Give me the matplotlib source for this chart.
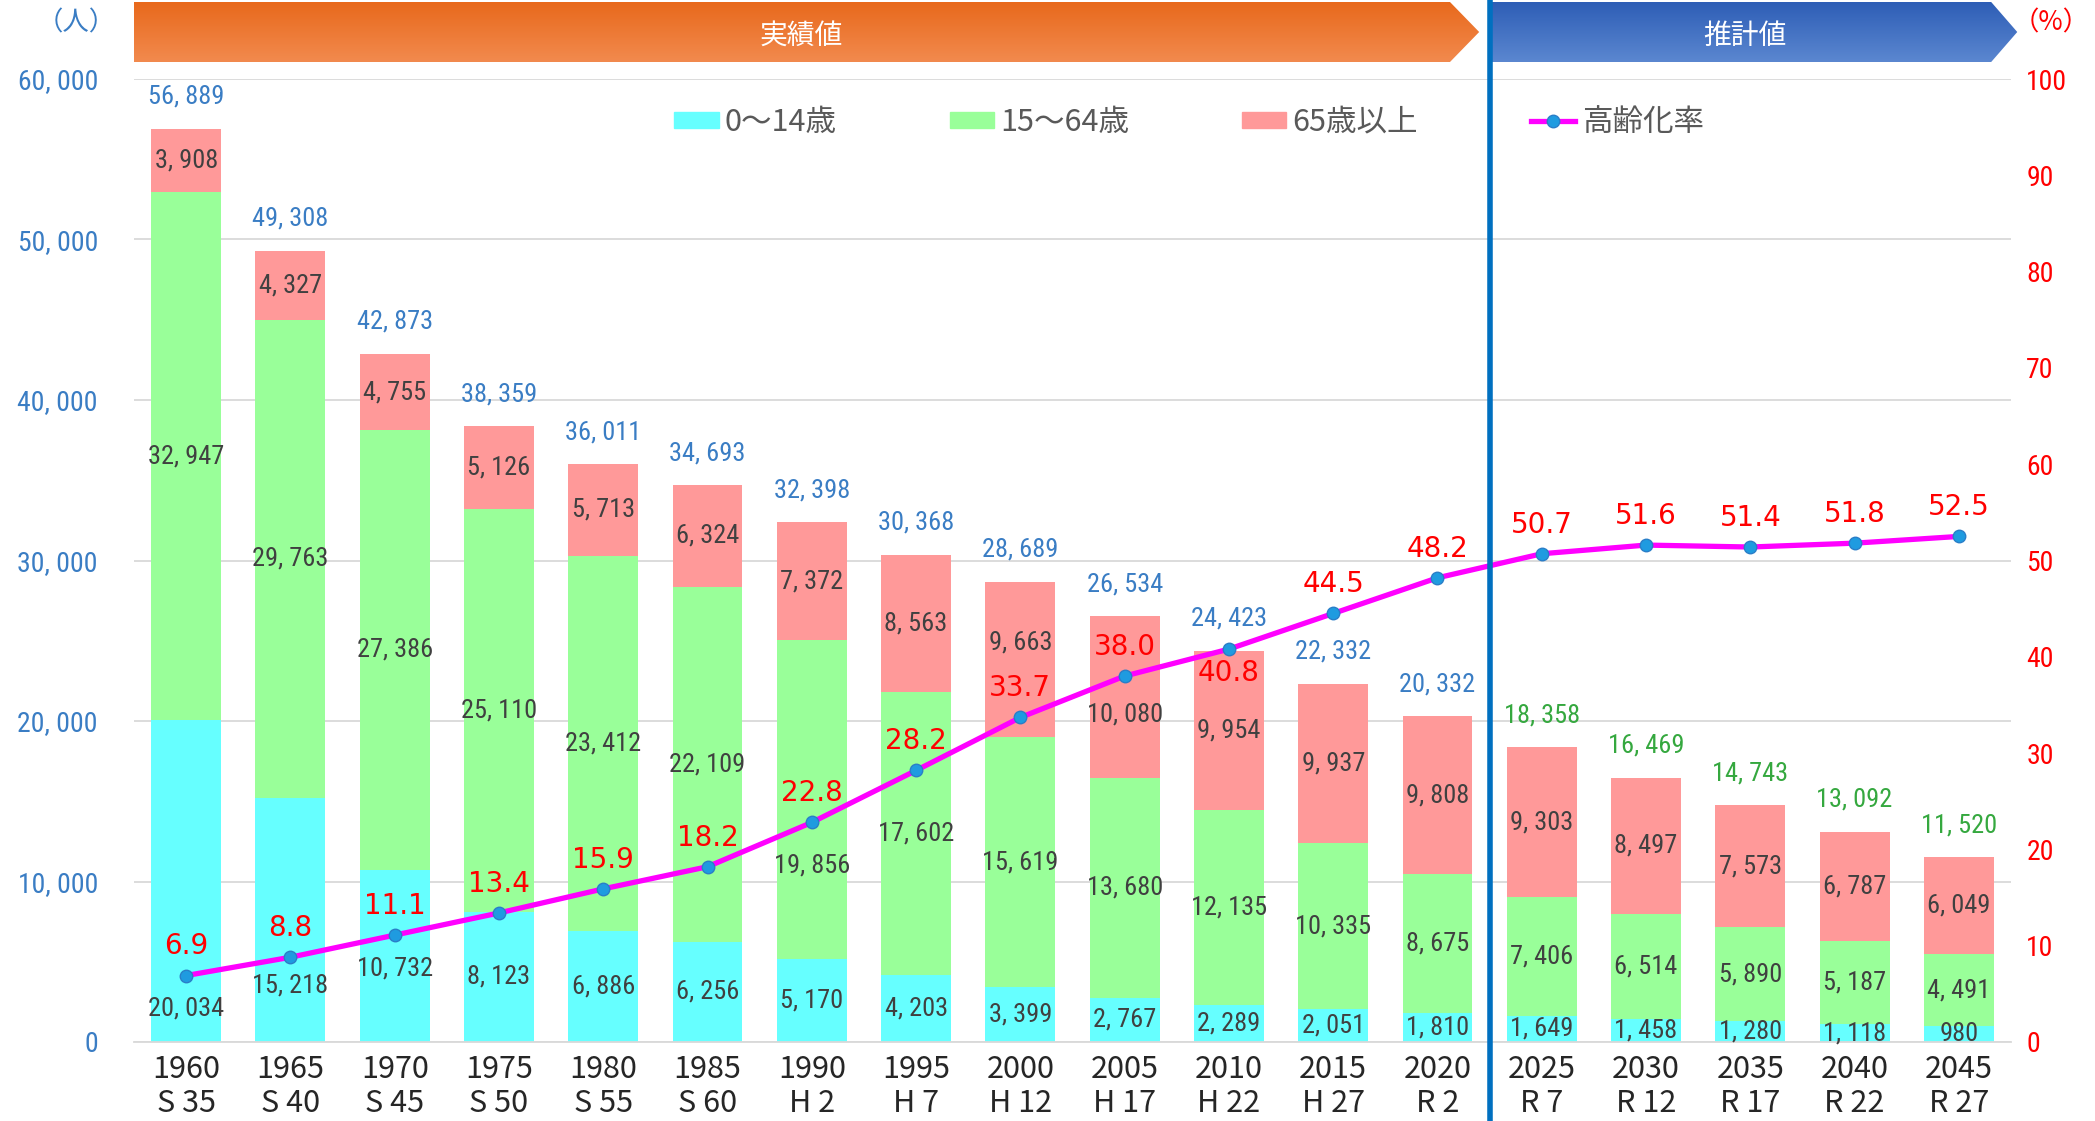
import numpy as np
import matplotlib
matplotlib.use("Agg")
import matplotlib.pyplot as plt
from matplotlib import font_manager as fm
from matplotlib.patches import Polygon, Patch
from matplotlib.lines import Line2D
from matplotlib.transforms import blended_transform_factory

# ---------------- data ----------------
years = [1960, 1965, 1970, 1975, 1980, 1985, 1990, 1995, 2000, 2005,
         2010, 2015, 2020, 2025, 2030, 2035, 2040, 2045]
eras = ["S 35", "S 40", "S 45", "S 50", "S 55", "S 60", "H 2", "H 7", "H 12",
        "H 17", "H 22", "H 27", "R 2", "R 7", "R 12", "R 17", "R 22", "R 27"]
young = [20034, 15218, 10732, 8123, 6886, 6256, 5170, 4203, 3399, 2767,
         2289, 2051, 1810, 1649, 1458, 1280, 1118, 980]
working = [32947, 29763, 27386, 25110, 23412, 22109, 19856, 17602, 15619,
           13680, 12135, 10335, 8675, 7406, 6514, 5890, 5187, 4491]
old = [3908, 4327, 4755, 5126, 5713, 6324, 7372, 8563, 9663, 10080,
       9954, 9937, 9808, 9303, 8497, 7573, 6787, 6049]
totals = [56889, 49308, 42873, 38359, 36011, 34693, 32398, 30368, 28689,
          26534, 24423, 22332, 20332, 18358, 16469, 14743, 13092, 11520]
rate = [6.9, 8.8, 11.1, 13.4, 15.9, 18.2, 22.8, 28.2, 33.7, 38.0,
        40.8, 44.5, 48.2, 50.7, 51.6, 51.4, 51.8, 52.5]
n_actual = 13  # first 13 points are actual values, rest projections
legend_labels = ["0～14歳", "15～64歳", "65歳以上", "高齢化率"]

# ---------------- fonts ----------------
CJK = "Noto Sans CJK JP"
plt.rcParams["font.family"] = [CJK, "DejaVu Sans"]
names = {f.name for f in fm.fontManager.ttflist}
if "Liberation Sans Narrow" in names:
    COND = dict(family="Liberation Sans Narrow")
elif "Roboto Condensed" in names:
    COND = dict(family="Roboto Condensed")
else:
    COND = dict(family="DejaVu Sans", stretch="condensed")

C_YOUNG = "#66FFFF"
C_WORK = "#99FF99"
C_OLD = "#FF9999"
C_LINE = "#FF00FF"
C_MARK = "#1F9BE0"
C_BLUE = "#3A7DC4"
C_GREEN = "#35A83F"
C_RED = "#FF0000"
C_DARK = "#404040"

def fmt(v):
    return "{:,}".format(v).replace(",", ", ")

# ---------------- figure ----------------
W, H = 2095, 1121
fig = plt.figure(figsize=(W / 100, H / 100), dpi=100)
L, R = 134 / W, 2011 / W
B, T = 1 - 1042 / H, 1 - 79 / H
ax = fig.add_axes([L, B, R - L, T - B])
ax2 = ax.twinx()

x = np.arange(len(years))
bw = 0.67
bottom_w = np.array(young)
bottom_o = np.array(young) + np.array(working)
b1 = ax.bar(x, young, bw, color=C_YOUNG, zorder=2)
b2 = ax.bar(x, working, bw, bottom=bottom_w, color=C_WORK, zorder=2)
b3 = ax.bar(x, old, bw, bottom=bottom_o, color=C_OLD, zorder=2)

ax.set_xlim(-0.5, len(years) - 0.5)
ax.set_ylim(0, 60000)
ax.set_yticks(np.arange(0, 60001, 10000))
ax.set_yticklabels([fmt(v) for v in range(0, 60001, 10000)], color=C_BLUE,
                   fontsize=20, **COND)
ax.tick_params(axis="y", length=0, pad=26)
ax.set_xticks(x)
ax.set_xticklabels([f"{y}\n{e}" for y, e in zip(years, eras)], fontsize=22,
                   color="#262626", linespacing=1.1)
ax.tick_params(axis="x", length=0, pad=9)
ax.grid(axis="y", color="#D9D9D9", lw=1.3, zorder=0)
ax.set_axisbelow(True)
for s in ["top", "left", "right"]:
    ax.spines[s].set_visible(False)
ax.spines["bottom"].set_color("#D9D9D9")
ax.spines["bottom"].set_linewidth(1.3)

ax2.set_ylim(0, 100)
ax2.set_yticks(np.arange(0, 101, 10))
ax2.set_yticklabels([str(v) for v in range(0, 101, 10)], color=C_RED,
                    fontsize=20, **COND)
ax2.tick_params(axis="y", length=0, pad=11)
for s in ax2.spines.values():
    s.set_visible(False)

ln, = ax2.plot(x, rate, color=C_LINE, lw=3.8, marker="o", ms=9,
               mfc=C_MARK, mec="#2A7EC8", mew=1, zorder=5)

# segment labels (a few were moved off-centre in the original to avoid the line)
young_label_y = {0: 2100, 1: 3500, 2: 4600}
work_label_y = {6: 11000}
old_label_y = {8: 24900, 9: 20400}
for i in x:
    yy = young_label_y.get(i, young[i] / 2)
    ax.text(i, yy, fmt(young[i]), ha="center", va="center", fontsize=19,
            color=C_DARK, zorder=4, **COND)
    yw = work_label_y.get(i, young[i] + working[i] / 2)
    ax.text(i, yw, fmt(working[i]), ha="center",
            va="center", fontsize=19, color=C_DARK, zorder=4, **COND)
    yo = old_label_y.get(i, young[i] + working[i] + old[i] / 2)
    ax.text(i, yo, fmt(old[i]), ha="center", va="center", fontsize=19,
            color=C_DARK, zorder=4, **COND)
    top = young[i] + working[i] + old[i]
    ax.annotate(fmt(totals[i]), (i, top), xytext=(0, 23),
                textcoords="offset points", ha="center", va="center",
                fontsize=19, color=C_BLUE if i < n_actual else C_GREEN, **COND)

# rate labels
below = {10}
for i in x:
    off = -17 if i in below else 21
    ax2.annotate(f"{rate[i]:.1f}", (i, rate[i]), xytext=(0, off),
                 textcoords="offset points", ha="center", va="center",
                 fontsize=20, color=C_RED, zorder=6, family="DejaVu Sans")

# legend
handles = [Patch(color=C_YOUNG), Patch(color=C_WORK), Patch(color=C_OLD),
           Line2D([], [], color=C_LINE, lw=3.8, marker="o", ms=9,
                  mfc=C_MARK, mec="#2A7EC8")]
leg = ax2.legend(handles, legend_labels, ncol=4, loc="center",
                 bbox_to_anchor=(0.562, 0.955), frameon=False, fontsize=22,
                 handlelength=1.45, handleheight=0.45, handletextpad=0.2,
                 columnspacing=3.7, labelcolor="#595959")

# divider line (actual / projection)
tr = blended_transform_factory(ax.transData, fig.transFigure)
fig.add_artist(Line2D([n_actual - 0.5, n_actual - 0.5], [0, 0.998],
                      transform=tr, color="#0070C0", lw=4, zorder=10))

# banners
extra = 0.3
axb = fig.add_axes([L, 1 - 62 / H, (R - L) * (18 + extra) / 18, 60 / H])
axb.set_xlim(-0.5, 17.5 + extra)
axb.set_ylim(0, 1)
axb.axis("off")
grad = np.linspace(0, 1, 64).reshape(-1, 1)

def banner(pts, c_top, c_bot, label, xc):
    poly = Polygon(pts, closed=True, facecolor="none", edgecolor="none")
    axb.add_patch(poly)
    ct = np.array(matplotlib.colors.to_rgb(c_top))
    cb = np.array(matplotlib.colors.to_rgb(c_bot))
    img = ct[None, None, :] * (1 - grad[:, :, None]) + cb[None, None, :] * grad[:, :, None]
    im = axb.imshow(img, extent=[-0.5, 17.5 + extra, 1, 0], aspect="auto",
                    origin="upper")
    im.set_clip_path(poly)
    axb.text(xc, 0.43, label, ha="center", va="center", color="white",
             fontsize=20, family=CJK)

banner([(-0.5, 0), (12.12, 0), (12.40, 0.5), (12.12, 1), (-0.5, 1)],
       "#F28A4E", "#E8691C", "実績値", 5.9)
banner([(12.5, 0), (17.31, 0), (17.56, 0.5), (17.31, 1), (12.5, 1)],
       "#5B87D0", "#2E5EB6", "推計値", 14.95)
axb.set_xlim(-0.5, 17.5 + extra)
axb.set_ylim(0, 1)

# unit labels
fig.text(76 / W, 1 - 23 / H, "（人）", ha="center", va="center",
         color=C_BLUE, fontsize=19, family=CJK)
fig.text(2051 / W, 1 - 23 / H, "（%）", ha="center", va="center",
         color=C_RED, fontsize=19, family=CJK)

fig.savefig("out.png", dpi=100)
